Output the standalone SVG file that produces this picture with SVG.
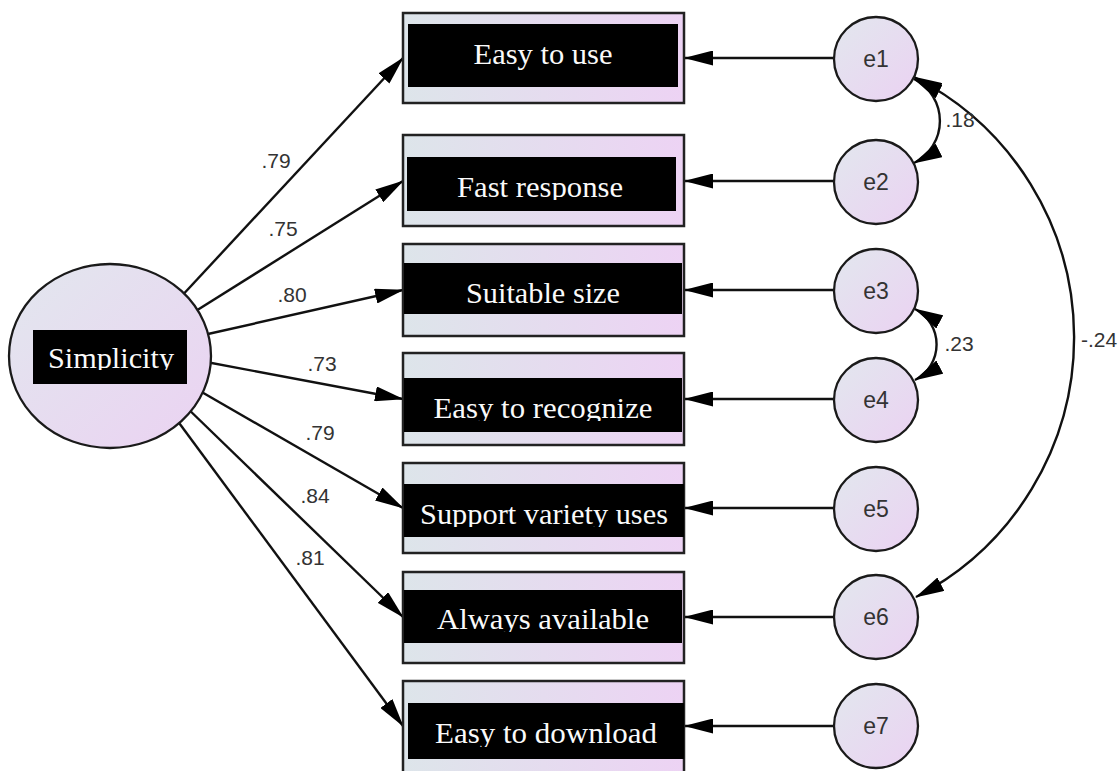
<svg xmlns="http://www.w3.org/2000/svg" width="1118" height="771" viewBox="0 0 1118 771">
  <defs>
    <linearGradient id="boxFill" x1="0" y1="0" x2="1" y2="0">
      <stop offset="0" stop-color="#dde5ea"/>
      <stop offset="1" stop-color="#edd3f4"/>
    </linearGradient>
    <linearGradient id="orbFill" x1="0" y1="0" x2="1" y2="1">
      <stop offset="0" stop-color="#e2e7ee"/>
      <stop offset="1" stop-color="#ebd2f2"/>
    </linearGradient>
    <marker id="arr" viewBox="0 0 29 15" markerUnits="userSpaceOnUse" markerWidth="29" markerHeight="15" refX="28" refY="7.5" orient="auto-start-reverse">
      <path d="M0,0 L29,7.5 L0,15 z" fill="#000"/>
    </marker>
    <clipPath id="c0"><rect x="30" y="328" width="160" height="42"/></clipPath>
    <clipPath id="c1"><rect x="408" y="24" width="270" height="63"/></clipPath>
    <clipPath id="c2"><rect x="407" y="157" width="269" height="43"/></clipPath>
    <clipPath id="c3"><rect x="404" y="263" width="278" height="51"/></clipPath>
    <clipPath id="c4"><rect x="404" y="378" width="278" height="43"/></clipPath>
    <clipPath id="c5"><rect x="404" y="484" width="280" height="43"/></clipPath>
    <clipPath id="c6"><rect x="404" y="590" width="278" height="42"/></clipPath>
    <clipPath id="c7"><rect x="408" y="703" width="276" height="44"/></clipPath>
  </defs>
  <style>
    .box { fill: url(#boxFill); stroke: #222; stroke-width: 2.5; }
    .orb { fill: url(#orbFill); stroke: #1a1a1a; stroke-width: 2.3; }
    .band { fill: #000; }
    .name { font-family: "Liberation Serif", "Times New Roman", serif; font-size: 29px; fill: #fafafa; text-anchor: middle; }
    .err { font-family: "Liberation Sans", Arial, sans-serif; font-size: 23px; fill: #333; text-anchor: middle; }
    .est { font-family: "Liberation Sans", Arial, sans-serif; font-size: 21px; fill: #333; text-anchor: middle; }
    .path { fill: none; stroke: #111; stroke-width: 2.4; marker-end: url(#arr); }
    .cov { fill: none; stroke: #111; stroke-width: 2.4; marker-start: url(#arr); marker-end: url(#arr); }
  </style>

  <!-- connectors: factor loadings, error terms, covariances -->
  <g id="connectors">
    <line class="path" x1="178" y1="300" x2="403" y2="58"/>
    <line class="path" x1="191" y1="314" x2="403" y2="181"/>
    <line class="path" x1="199" y1="336" x2="403" y2="290"/>
    <line class="path" x1="201" y1="361" x2="403" y2="399"/>
    <line class="path" x1="193" y1="387" x2="403" y2="508"/>
    <line class="path" x1="182" y1="403" x2="403" y2="617"/>
    <line class="path" x1="171" y1="412" x2="403" y2="726"/>

    <line class="path" x1="850" y1="58" x2="685" y2="58"/>
    <line class="path" x1="850" y1="181" x2="685" y2="181"/>
    <line class="path" x1="850" y1="290" x2="685" y2="290"/>
    <line class="path" x1="850" y1="399" x2="685" y2="399"/>
    <line class="path" x1="850" y1="508" x2="685" y2="508"/>
    <line class="path" x1="850" y1="617" x2="685" y2="617"/>
    <line class="path" x1="850" y1="726" x2="685" y2="726"/>

    <path class="cov" d="M914,79 A47,47 0 0 1 914,163"/>
    <path class="cov" d="M915,309 A40,40 0 0 1 915,380"/>
    <path class="cov" d="M916,597 A292,292 0 0 0 914,77"/>

    <text class="est" x="276" y="168">.79</text>
    <text class="est" x="283" y="236">.75</text>
    <text class="est" x="292" y="302">.80</text>
    <text class="est" x="322" y="371">.73</text>
    <text class="est" x="320" y="440">.79</text>
    <text class="est" x="315" y="503">.84</text>
    <text class="est" x="310" y="565">.81</text>
    <text class="est" x="960" y="127">.18</text>
    <text class="est" x="959" y="351">.23</text>
    <text class="est" x="1099" y="347">-.24</text>
  </g>

  <!-- latent factor -->
  <g id="simplicity">
    <ellipse class="orb" cx="110" cy="356" rx="101" ry="92"/>
    <rect class="band" x="33" y="330" width="154" height="54"/>
    <text class="name" x="111" y="368" textLength="126" lengthAdjust="spacingAndGlyphs" clip-path="url(#c0)">Simplicity</text>
  </g>

  <!-- observed indicators -->
  <g id="easy-to-use">
    <rect class="box" x="403" y="13" width="281" height="90"/>
    <rect class="band" x="408" y="24" width="270" height="63"/>
    <text class="name" x="543" y="64" textLength="139" lengthAdjust="spacingAndGlyphs" clip-path="url(#c1)">Easy to use</text>
  </g>
  <g id="fast-response">
    <rect class="box" x="403" y="135" width="281" height="91"/>
    <rect class="band" x="407" y="157" width="269" height="54"/>
    <text class="name" x="540" y="197" textLength="166" lengthAdjust="spacingAndGlyphs" clip-path="url(#c2)">Fast response</text>
  </g>
  <g id="suitable-size">
    <rect class="box" x="403" y="244" width="281" height="92"/>
    <rect class="band" x="404" y="263" width="278" height="51"/>
    <text class="name" x="543" y="303" textLength="154" lengthAdjust="spacingAndGlyphs" clip-path="url(#c3)">Suitable size</text>
  </g>
  <g id="easy-to-recognize">
    <rect class="box" x="403" y="353" width="281" height="92"/>
    <rect class="band" x="404" y="378" width="278" height="54"/>
    <text class="name" x="543" y="418" textLength="219" lengthAdjust="spacingAndGlyphs" clip-path="url(#c4)">Easy to recognize</text>
  </g>
  <g id="support-variety-uses">
    <rect class="box" x="403" y="463" width="281" height="90"/>
    <rect class="band" x="404" y="484" width="280" height="53"/>
    <text class="name" x="544" y="524" textLength="248" lengthAdjust="spacingAndGlyphs" clip-path="url(#c5)">Support variety uses</text>
  </g>
  <g id="always-available">
    <rect class="box" x="403" y="572" width="281" height="91"/>
    <rect class="band" x="404" y="590" width="278" height="53"/>
    <text class="name" x="543" y="629" textLength="212" lengthAdjust="spacingAndGlyphs" clip-path="url(#c6)">Always available</text>
  </g>
  <g id="easy-to-download">
    <rect class="box" x="403" y="681" width="281" height="92"/>
    <rect class="band" x="408" y="703" width="276" height="56"/>
    <text class="name" x="546" y="743" textLength="222" lengthAdjust="spacingAndGlyphs" clip-path="url(#c7)">Easy to download</text>
  </g>

  <!-- error terms -->
  <g id="e1"><circle class="orb" cx="876" cy="59" r="42"/><text class="err" x="876" y="67">e1</text></g>
  <g id="e2"><circle class="orb" cx="876" cy="182" r="42"/><text class="err" x="876" y="190">e2</text></g>
  <g id="e3"><circle class="orb" cx="876" cy="291" r="42"/><text class="err" x="876" y="299">e3</text></g>
  <g id="e4"><circle class="orb" cx="876" cy="400" r="42"/><text class="err" x="876" y="408">e4</text></g>
  <g id="e5"><circle class="orb" cx="876" cy="509" r="42"/><text class="err" x="876" y="517">e5</text></g>
  <g id="e6"><circle class="orb" cx="876" cy="617" r="42"/><text class="err" x="876" y="625">e6</text></g>
  <g id="e7"><circle class="orb" cx="876" cy="726" r="42"/><text class="err" x="876" y="734">e7</text></g>
</svg>
